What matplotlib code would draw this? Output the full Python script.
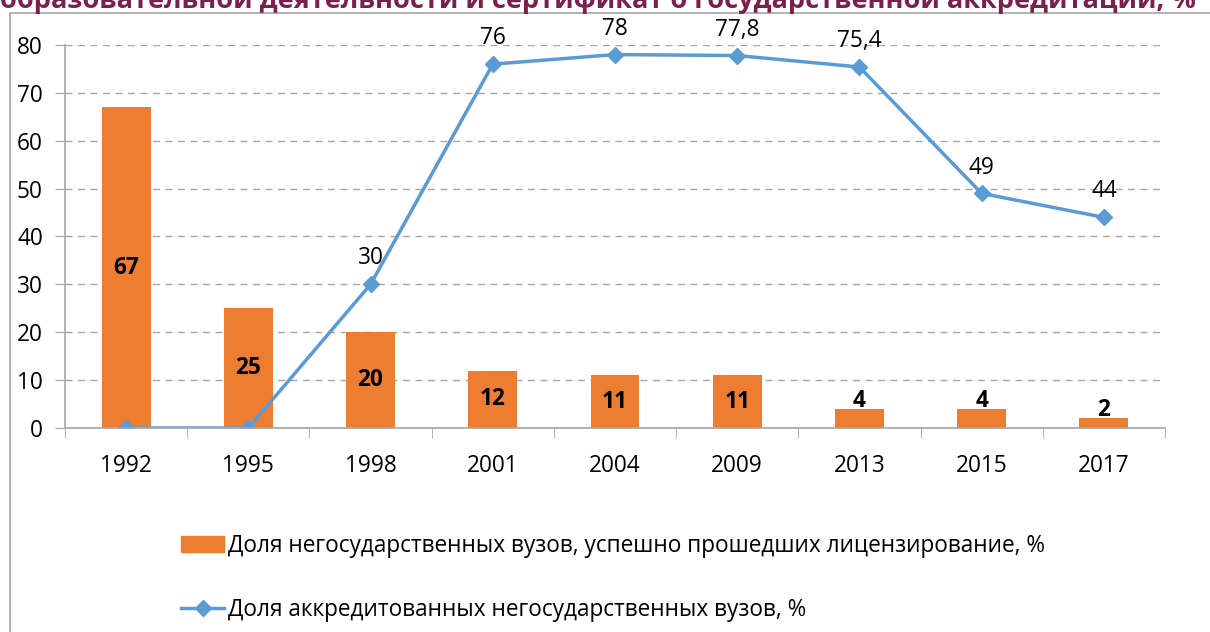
import numpy as np
import matplotlib.pyplot as plt
from matplotlib.patches import Rectangle
from matplotlib.lines import Line2D

plt.rcParams['font.family'] = ['Open Sans', 'DejaVu Sans']

# Data
years = ["1992", "1995", "1998", "2001", "2004", "2009", "2013", "2015", "2017"]
licensed = [67, 25, 20, 12, 11, 11, 4, 4, 2]
accredited = [0, 0, 30, 76, 78, 77.8, 75.4, 49, 44]
accredited_labels = ["", "", "30", "76", "78", "77,8", "75,4", "49", "44"]

bar_name = "Доля негосударственных вузов, успешно прошедших лицензирование, %"
line_name = "Доля аккредитованных негосударственных вузов, %"
title = "образовательной деятельности и сертификат о государственной аккредитации, %"

bar_color = "#ED7D31"
line_color = "#5B9BD5"
grey = "#A6A6A6"
fs = 16.3

fig = plt.figure(figsize=(12.1, 6.32), dpi=100)

# outer chart border (partially visible)
fig.patches.append(Rectangle((10 / 1210, -0.05), 1.2, (632 - 13) / 632 + 0.05,
                             transform=fig.transFigure, fill=False,
                             edgecolor=grey, linewidth=1.2))

# clipped title
fig.text(0.0, 1 + 13 / 632, title, ha="left", va="top", fontsize=19.5,
         fontweight="bold", color="#7B1F4F")

ax = fig.add_axes([65 / 1210, 1 - 428 / 632, 1100 / 1210, 383 / 632])
x = np.arange(len(years))

ax.bar(x, licensed, width=0.4, color=bar_color, zorder=2)
ax.plot(x, accredited, color=line_color, linewidth=2.5, marker="D",
        markersize=8, zorder=3)

for xi, v in zip(x, licensed):
    if v >= 10:
        ax.text(xi, v / 2, str(v), ha="center", va="center", fontsize=fs,
                fontweight="bold", color="black", zorder=4)
    else:
        ax.text(xi, v - 0.8, str(v), ha="center", va="bottom", fontsize=fs,
                fontweight="bold", color="black", zorder=4)

for xi, v, lab in zip(x, accredited, accredited_labels):
    if lab:
        ax.annotate(lab, (xi, v), xytext=(0, 10), textcoords="offset points",
                    ha="center", va="bottom", fontsize=fs, color="black")

ax.set_xlim(-0.5, len(years) - 0.5)
ax.set_ylim(0, 80)
ax.set_yticks(range(0, 81, 10))
ax.set_xticks(x)
ax.set_xticklabels(years)
ax.set_xticks(np.arange(-0.5, len(years), 1), minor=True)
ax.tick_params(axis="x", which="major", length=0, pad=19, labelsize=fs)
ax.tick_params(axis="x", which="minor", length=7, color=grey, direction="out")
ax.tick_params(axis="y", length=7, color=grey, labelsize=fs, pad=9)

ax.yaxis.grid(True, linestyle=(0, (5, 4)), color=grey, linewidth=1)
ax.set_axisbelow(True)
for s in ["top", "right"]:
    ax.spines[s].set_visible(False)
for s in ["left", "bottom"]:
    ax.spines[s].set_color(grey)
    ax.spines[s].set_linewidth(1.2)
ax.spines["bottom"].set_zorder(5)

# legend
handles = [Rectangle((0, 0), 1, 1, color=bar_color),
           Line2D([0], [0], color=line_color, linewidth=2.5, marker="D",
                  markersize=8)]
fig.legend(handles, [bar_name, line_name], loc="upper left",
           bbox_to_anchor=(170 / 1210, 1 - 523 / 632), frameon=False,
           fontsize=fs, handlelength=1.9, handletextpad=0.15,
           labelspacing=1.75, borderpad=0)

fig.savefig("out.png", dpi=100)
